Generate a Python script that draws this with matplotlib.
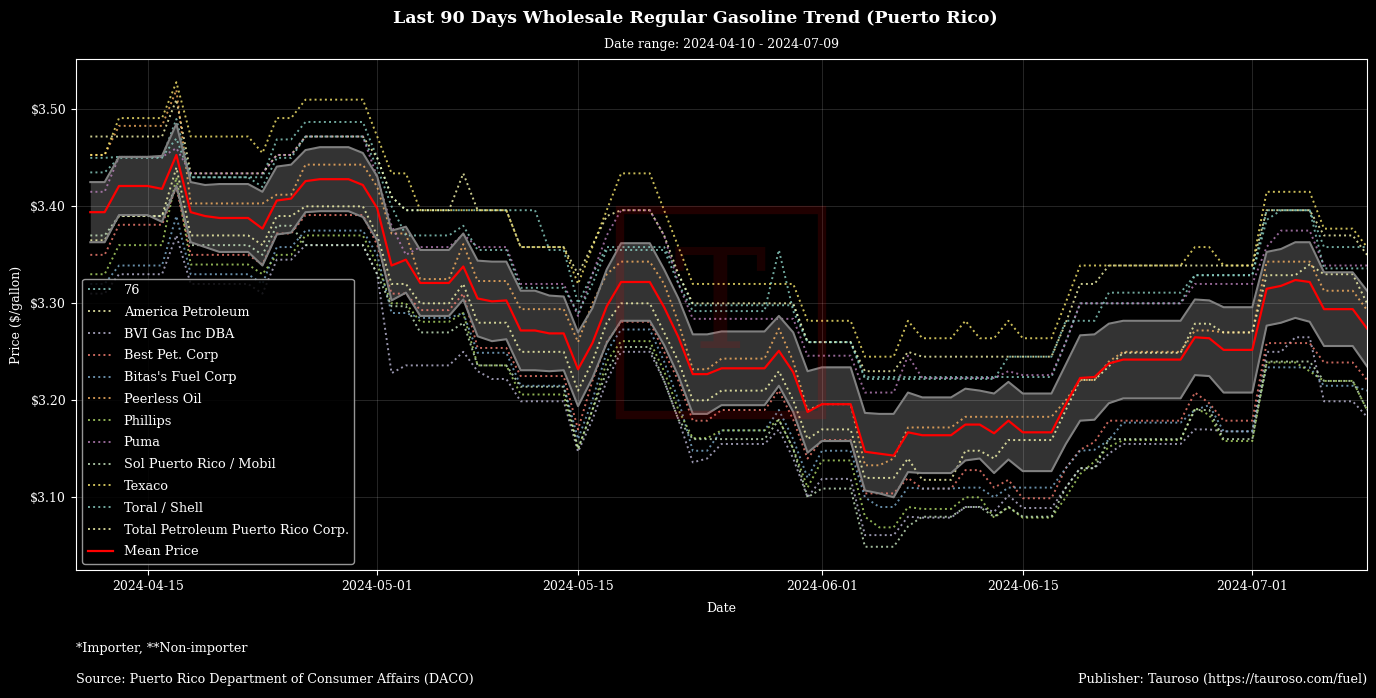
import matplotlib
matplotlib.use('Agg')
import matplotlib.pyplot as plt
import matplotlib.dates as mdates
from matplotlib.patches import Rectangle
from matplotlib.ticker import StrMethodFormatter
import pandas as pd

plt.style.use('dark_background')
plt.rcParams['font.family'] = ['DejaVu Serif', 'DejaVu Sans']

# ===================================
# data (daily wholesale price, $/gallon)
start_date = "2024-04-11"
range_text = "Date range: 2024-04-10 - 2024-07-09"

companies = ["76", "America Petroleum", "BVI Gas Inc DBA", "Best Pet. Corp",
             "Bitas's Fuel Corp", "Peerless Oil", "Phillips", "Puma",
             "Sol Puerto Rico / Mobil", "Texaco", "Toral / Shell",
             "Total Petroleum Puerto Rico Corp."]

p_76 = [3.450, 3.450, 3.451, 3.451, 3.451, 3.451, 3.470, 3.430, 3.430, 3.430,
        3.430, 3.430, 3.430, 3.469, 3.469, 3.487, 3.487, 3.487, 3.487, 3.487,
        3.450, 3.410, 3.396, 3.396, 3.396, 3.396, 3.396, 3.396, 3.396, 3.396,
        3.396, 3.396, 3.355, 3.355, 3.300, 3.330, 3.358, 3.358, 3.358, 3.358,
        3.358, 3.330, 3.298, 3.298, 3.298, 3.298, 3.298, 3.298, 3.298, 3.298,
        3.260, 3.260, 3.260, 3.260, 3.224, 3.224, 3.224, 3.224, 3.224, 3.224,
        3.224, 3.224, 3.224, 3.224, 3.224, 3.224, 3.224, 3.224, 3.260, 3.300,
        3.300, 3.300, 3.300, 3.300, 3.300, 3.300, 3.300, 3.329, 3.329, 3.329,
        3.329, 3.329, 3.386, 3.396, 3.396, 3.396, 3.358, 3.358, 3.358, 3.358]

p_america = [3.472, 3.472, 3.472, 3.472, 3.472, 3.472, 3.510, 3.434, 3.434, 3.434,
             3.434, 3.434, 3.434, 3.453, 3.453, 3.472, 3.472, 3.472, 3.472, 3.472,
             3.450, 3.410, 3.396, 3.396, 3.396, 3.396, 3.434, 3.396, 3.396, 3.396,
             3.358, 3.358, 3.358, 3.358, 3.330, 3.360, 3.390, 3.396, 3.396, 3.396,
             3.370, 3.330, 3.300, 3.300, 3.300, 3.300, 3.300, 3.300, 3.300, 3.300,
             3.260, 3.260, 3.260, 3.260, 3.230, 3.230, 3.230, 3.250, 3.245, 3.245,
             3.245, 3.245, 3.245, 3.245, 3.245, 3.245, 3.245, 3.245, 3.280, 3.320,
             3.320, 3.339, 3.339, 3.339, 3.339, 3.339, 3.339, 3.339, 3.339, 3.339,
             3.339, 3.339, 3.396, 3.396, 3.396, 3.396, 3.370, 3.370, 3.370, 3.350]

p_bvi = [3.310, 3.310, 3.330, 3.330, 3.330, 3.330, 3.370, 3.320, 3.320, 3.320,
         3.320, 3.320, 3.310, 3.345, 3.345, 3.360, 3.360, 3.360, 3.360, 3.360,
         3.330, 3.228, 3.236, 3.236, 3.236, 3.236, 3.250, 3.230, 3.222, 3.222,
         3.199, 3.199, 3.199, 3.199, 3.147, 3.180, 3.220, 3.250, 3.250, 3.250,
         3.220, 3.180, 3.136, 3.140, 3.155, 3.155, 3.155, 3.155, 3.170, 3.140,
         3.100, 3.119, 3.119, 3.119, 3.061, 3.061, 3.061, 3.080, 3.079, 3.079,
         3.079, 3.090, 3.090, 3.085, 3.102, 3.089, 3.089, 3.089, 3.110, 3.130,
         3.130, 3.145, 3.155, 3.155, 3.155, 3.155, 3.155, 3.170, 3.170, 3.168,
         3.168, 3.168, 3.250, 3.250, 3.265, 3.265, 3.199, 3.199, 3.199, 3.183]

p_best = [3.350, 3.350, 3.381, 3.381, 3.381, 3.381, 3.420, 3.350, 3.350, 3.350,
          3.350, 3.350, 3.340, 3.372, 3.372, 3.391, 3.391, 3.391, 3.391, 3.391,
          3.360, 3.310, 3.310, 3.293, 3.293, 3.293, 3.310, 3.254, 3.254, 3.254,
          3.225, 3.225, 3.225, 3.225, 3.170, 3.220, 3.260, 3.281, 3.281, 3.281,
          3.250, 3.220, 3.179, 3.179, 3.190, 3.190, 3.190, 3.190, 3.210, 3.180,
          3.140, 3.159, 3.159, 3.159, 3.104, 3.104, 3.104, 3.120, 3.109, 3.109,
          3.109, 3.128, 3.128, 3.110, 3.118, 3.099, 3.099, 3.099, 3.130, 3.149,
          3.157, 3.179, 3.179, 3.179, 3.179, 3.179, 3.179, 3.208, 3.197, 3.179,
          3.179, 3.179, 3.259, 3.259, 3.259, 3.259, 3.239, 3.239, 3.239, 3.221]

p_bitas = [3.320, 3.320, 3.339, 3.339, 3.339, 3.339, 3.390, 3.330, 3.330, 3.330,
           3.330, 3.330, 3.320, 3.358, 3.358, 3.375, 3.375, 3.375, 3.375, 3.375,
           3.350, 3.290, 3.290, 3.285, 3.285, 3.285, 3.290, 3.249, 3.249, 3.249,
           3.215, 3.215, 3.215, 3.215, 3.160, 3.200, 3.250, 3.273, 3.273, 3.273,
           3.240, 3.200, 3.148, 3.148, 3.169, 3.169, 3.169, 3.169, 3.190, 3.160,
           3.120, 3.148, 3.148, 3.148, 3.100, 3.090, 3.090, 3.110, 3.109, 3.109,
           3.109, 3.110, 3.110, 3.100, 3.110, 3.110, 3.110, 3.110, 3.130, 3.148,
           3.149, 3.159, 3.177, 3.177, 3.177, 3.177, 3.177, 3.190, 3.195, 3.168,
           3.168, 3.168, 3.234, 3.234, 3.234, 3.234, 3.215, 3.215, 3.215, 3.210]

p_peerless = [3.453, 3.453, 3.483, 3.483, 3.483, 3.483, 3.520, 3.403, 3.403, 3.403,
              3.403, 3.403, 3.403, 3.412, 3.412, 3.443, 3.443, 3.443, 3.443, 3.443,
              3.420, 3.372, 3.372, 3.325, 3.325, 3.325, 3.361, 3.323, 3.323, 3.323,
              3.294, 3.294, 3.294, 3.294, 3.260, 3.300, 3.330, 3.343, 3.343, 3.343,
              3.320, 3.280, 3.232, 3.232, 3.243, 3.243, 3.243, 3.243, 3.274, 3.240,
              3.190, 3.196, 3.196, 3.196, 3.133, 3.133, 3.140, 3.172, 3.172, 3.172,
              3.172, 3.183, 3.183, 3.183, 3.183, 3.183, 3.183, 3.183, 3.200, 3.221,
              3.221, 3.240, 3.250, 3.250, 3.250, 3.250, 3.250, 3.272, 3.272, 3.270,
              3.270, 3.270, 3.343, 3.343, 3.343, 3.343, 3.313, 3.313, 3.313, 3.293]

p_phillips = [3.330, 3.330, 3.360, 3.360, 3.360, 3.360, 3.430, 3.340, 3.340, 3.340,
              3.340, 3.340, 3.330, 3.350, 3.350, 3.370, 3.370, 3.370, 3.370, 3.370,
              3.340, 3.300, 3.300, 3.281, 3.281, 3.281, 3.290, 3.236, 3.236, 3.236,
              3.206, 3.206, 3.206, 3.206, 3.150, 3.190, 3.240, 3.261, 3.261, 3.261,
              3.230, 3.190, 3.161, 3.161, 3.169, 3.169, 3.169, 3.169, 3.180, 3.150,
              3.110, 3.138, 3.138, 3.138, 3.080, 3.069, 3.069, 3.090, 3.088, 3.088,
              3.088, 3.100, 3.100, 3.079, 3.090, 3.079, 3.079, 3.079, 3.100, 3.124,
              3.137, 3.152, 3.159, 3.159, 3.159, 3.159, 3.159, 3.192, 3.185, 3.158,
              3.158, 3.158, 3.239, 3.239, 3.239, 3.230, 3.220, 3.220, 3.220, 3.190]

p_puma = [3.415, 3.415, 3.451, 3.451, 3.451, 3.451, 3.460, 3.434, 3.434, 3.434,
          3.434, 3.434, 3.434, 3.453, 3.453, 3.472, 3.472, 3.472, 3.472, 3.472,
          3.430, 3.380, 3.350, 3.358, 3.358, 3.358, 3.371, 3.358, 3.358, 3.358,
          3.320, 3.320, 3.320, 3.320, 3.287, 3.330, 3.370, 3.396, 3.396, 3.396,
          3.370, 3.320, 3.284, 3.284, 3.284, 3.284, 3.284, 3.284, 3.284, 3.284,
          3.246, 3.246, 3.246, 3.246, 3.208, 3.208, 3.208, 3.246, 3.223, 3.223,
          3.223, 3.223, 3.223, 3.223, 3.230, 3.226, 3.226, 3.226, 3.260, 3.300,
          3.300, 3.300, 3.300, 3.300, 3.300, 3.300, 3.300, 3.320, 3.320, 3.320,
          3.320, 3.320, 3.358, 3.375, 3.375, 3.375, 3.339, 3.339, 3.339, 3.339]

p_sol = [3.370, 3.370, 3.390, 3.390, 3.390, 3.390, 3.420, 3.360, 3.360, 3.360,
         3.360, 3.360, 3.350, 3.380, 3.380, 3.360, 3.360, 3.360, 3.360, 3.360,
         3.330, 3.297, 3.297, 3.270, 3.270, 3.270, 3.280, 3.236, 3.236, 3.236,
         3.214, 3.214, 3.214, 3.214, 3.150, 3.190, 3.230, 3.255, 3.255, 3.255,
         3.220, 3.180, 3.160, 3.160, 3.160, 3.160, 3.160, 3.160, 3.180, 3.150,
         3.100, 3.109, 3.109, 3.109, 3.049, 3.049, 3.049, 3.070, 3.080, 3.080,
         3.080, 3.090, 3.090, 3.080, 3.090, 3.080, 3.080, 3.080, 3.110, 3.130,
         3.130, 3.160, 3.160, 3.160, 3.160, 3.160, 3.160, 3.190, 3.190, 3.160,
         3.160, 3.160, 3.240, 3.240, 3.240, 3.240, 3.220, 3.220, 3.220, 3.190]

p_texaco = [3.453, 3.453, 3.491, 3.491, 3.491, 3.491, 3.528, 3.472, 3.472, 3.472,
            3.472, 3.472, 3.455, 3.491, 3.491, 3.510, 3.510, 3.510, 3.510, 3.510,
            3.472, 3.434, 3.434, 3.396, 3.396, 3.396, 3.396, 3.396, 3.396, 3.396,
            3.358, 3.358, 3.358, 3.358, 3.320, 3.358, 3.396, 3.434, 3.434, 3.434,
            3.396, 3.358, 3.320, 3.320, 3.320, 3.320, 3.320, 3.320, 3.320, 3.320,
            3.282, 3.282, 3.282, 3.282, 3.245, 3.245, 3.245, 3.282, 3.264, 3.264,
            3.264, 3.282, 3.264, 3.264, 3.282, 3.264, 3.264, 3.264, 3.301, 3.339,
            3.339, 3.339, 3.339, 3.339, 3.339, 3.339, 3.339, 3.358, 3.358, 3.339,
            3.339, 3.339, 3.415, 3.415, 3.415, 3.415, 3.377, 3.377, 3.377, 3.358]

p_toral = [3.435, 3.435, 3.450, 3.450, 3.450, 3.450, 3.490, 3.430, 3.430, 3.430,
           3.430, 3.430, 3.420, 3.450, 3.450, 3.472, 3.472, 3.472, 3.472, 3.472,
           3.440, 3.400, 3.370, 3.370, 3.370, 3.370, 3.380, 3.355, 3.355, 3.355,
           3.316, 3.316, 3.316, 3.316, 3.290, 3.320, 3.355, 3.355, 3.355, 3.355,
           3.355, 3.320, 3.292, 3.292, 3.292, 3.292, 3.292, 3.292, 3.355, 3.292,
           3.260, 3.260, 3.260, 3.260, 3.222, 3.222, 3.222, 3.222, 3.222, 3.222,
           3.222, 3.222, 3.222, 3.222, 3.245, 3.245, 3.245, 3.245, 3.282, 3.282,
           3.282, 3.311, 3.311, 3.311, 3.311, 3.311, 3.311, 3.329, 3.329, 3.329,
           3.329, 3.329, 3.396, 3.396, 3.396, 3.396, 3.336, 3.336, 3.336, 3.336]

p_total = [3.365, 3.365, 3.390, 3.390, 3.390, 3.390, 3.440, 3.370, 3.370, 3.370,
           3.370, 3.370, 3.360, 3.390, 3.390, 3.400, 3.400, 3.400, 3.400, 3.400,
           3.370, 3.320, 3.320, 3.300, 3.300, 3.300, 3.320, 3.280, 3.280, 3.280,
           3.250, 3.250, 3.250, 3.250, 3.210, 3.240, 3.280, 3.300, 3.300, 3.300,
           3.270, 3.240, 3.200, 3.200, 3.210, 3.210, 3.210, 3.210, 3.230, 3.200,
           3.160, 3.170, 3.170, 3.170, 3.120, 3.120, 3.120, 3.140, 3.118, 3.118,
           3.118, 3.148, 3.148, 3.140, 3.159, 3.159, 3.159, 3.159, 3.190, 3.221,
           3.221, 3.235, 3.249, 3.249, 3.249, 3.249, 3.249, 3.279, 3.279, 3.270,
           3.270, 3.270, 3.329, 3.329, 3.329, 3.340, 3.330, 3.330, 3.330, 3.300]

mean_price = [3.394, 3.394, 3.421, 3.421, 3.421, 3.418, 3.453, 3.394, 3.390, 3.388,
              3.388, 3.388, 3.377, 3.406, 3.408, 3.426, 3.428, 3.428, 3.428, 3.422,
              3.398, 3.339, 3.345, 3.321, 3.321, 3.321, 3.338, 3.305, 3.302, 3.303,
              3.272, 3.272, 3.269, 3.269, 3.232, 3.259, 3.297, 3.322, 3.322, 3.322,
              3.296, 3.265, 3.227, 3.227, 3.233, 3.233, 3.233, 3.233, 3.251, 3.229,
              3.188, 3.196, 3.196, 3.196, 3.147, 3.145, 3.143, 3.167, 3.164, 3.164,
              3.164, 3.175, 3.175, 3.166, 3.179, 3.167, 3.167, 3.167, 3.196, 3.223,
              3.224, 3.238, 3.242, 3.242, 3.242, 3.242, 3.242, 3.265, 3.264, 3.252,
              3.252, 3.252, 3.315, 3.318, 3.324, 3.322, 3.294, 3.294, 3.294, 3.274]

band_half = [0.031, 0.031, 0.030, 0.030, 0.030, 0.034, 0.032, 0.031, 0.032, 0.035,
             0.035, 0.035, 0.038, 0.035, 0.035, 0.032, 0.033, 0.033, 0.033, 0.033,
             0.033, 0.036, 0.034, 0.034, 0.034, 0.034, 0.034, 0.039, 0.041, 0.040,
             0.041, 0.041, 0.039, 0.038, 0.038, 0.036, 0.038, 0.040, 0.040, 0.040,
             0.039, 0.040, 0.041, 0.041, 0.038, 0.038, 0.038, 0.038, 0.036, 0.041,
             0.042, 0.038, 0.038, 0.038, 0.040, 0.041, 0.043, 0.041, 0.039, 0.039,
             0.039, 0.037, 0.035, 0.041, 0.040, 0.040, 0.040, 0.040, 0.041, 0.044,
             0.044, 0.041, 0.040, 0.040, 0.040, 0.040, 0.040, 0.039, 0.039, 0.044,
             0.044, 0.044, 0.038, 0.038, 0.039, 0.041, 0.038, 0.038, 0.038, 0.039]

prices = [p_76, p_america, p_bvi, p_best, p_bitas, p_peerless, p_phillips,
          p_puma, p_sol, p_texaco, p_toral, p_total]

dates = pd.date_range(start_date, periods=len(mean_price), freq='D')
upper = [m + s for m, s in zip(mean_price, band_half)]
lower = [m - s for m, s in zip(mean_price, band_half)]

# ===================================
fig, ax = plt.subplots(figsize=(13.76, 6.98), dpi=100)
fig.subplots_adjust(left=0.0552, right=0.9935, top=0.9155, bottom=0.1834)

for name, vals in zip(companies, prices):
    ax.plot(dates, vals, linestyle=':', linewidth=1.4, alpha=0.8, label=name)

ax.fill_between(dates, lower, upper, color='gray', alpha=0.4, linewidth=0)
ax.plot(dates, upper, color='#808080', linewidth=1.5)
ax.plot(dates, lower, color='#808080', linewidth=1.5)
ax.plot(dates, mean_price, color='red', linewidth=1.6, label='Mean Price')

ax.set_xlim(pd.Timestamp('2024-04-10'), pd.Timestamp('2024-07-09'))
ax.xaxis.set_major_locator(mdates.DayLocator(bymonthday=[1, 15]))
ax.xaxis.set_major_formatter(mdates.DateFormatter('%Y-%m-%d'))
ax.yaxis.set_major_formatter(StrMethodFormatter('${x:,.2f}'))
ax.grid(True, color='white', alpha=0.15, linewidth=0.7)
ax.set_xlabel('Date', fontsize=9, labelpad=7)
ax.set_ylabel('Price ($/gallon)', fontsize=9, labelpad=5)
ax.tick_params(labelsize=9)

ax.legend(loc='lower left', fontsize=9.3, facecolor='black', edgecolor='#b0b0b0',
          framealpha=0.85, labelspacing=0.68)

fig.suptitle('Last 90 Days Wholesale Regular Gasoline Trend (Puerto Rico)',
             fontsize=12.5, fontweight='bold', x=0.505, y=0.974, va='center')
ax.set_title(range_text, fontsize=9, pad=8)

# watermark
fig.add_artist(Rectangle((0.4506, 0.4054), 0.1468, 0.2936, transform=fig.transFigure,
                         fill=False, edgecolor='red', linewidth=6, alpha=0.13))
fig.text(0.523, 0.556, 'T', ha='center', va='center', fontsize=100, color='red',
         alpha=0.1)

fig.text(0.0552, 0.0716, '*Importer, **Non-importer', va='center', fontsize=9.2)
fig.text(0.0552, 0.0272, 'Source: Puerto Rico Department of Consumer Affairs (DACO)',
         va='center', fontsize=9.2)
fig.text(0.9935, 0.0272, 'Publisher: Tauroso (https://tauroso.com/fuel)',
         ha='right', va='center', fontsize=9.2)

plt.savefig('out.png', dpi=100)
plt.close()
